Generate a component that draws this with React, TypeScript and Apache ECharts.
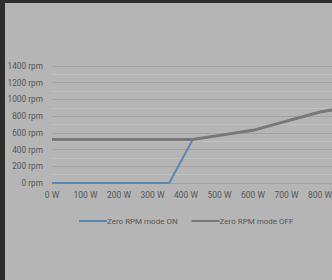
import React, { useEffect, useRef } from "react";
import * as echarts from "echarts";

const powerW = [0, 100, 200, 300, 350, 420, 500, 600, 700, 800, 900];
const rpmOn = [0, 0, 0, 0, 0, 520, 570, 630, 740, 850, 920];
const rpmOff = [520, 520, 520, 520, 520, 520, 570, 630, 740, 850, 920];
const yTicks = [0, 200, 400, 600, 800, 1000, 1200, 1400];
const seriesNames = ["Zero RPM mode ON", "Zero RPM mode OFF"];

const FONT = "Roboto, 'Liberation Sans', sans-serif";

export default function App() {
  const ref = useRef<HTMLDivElement>(null);
  useEffect(() => {
    if (!ref.current) return;
    const chart = echarts.init(ref.current, undefined, { renderer: "svg" });
    chart.setOption({
      animation: false,
      backgroundColor: "transparent",
      grid: { left: 47, top: 63, width: 301.5, height: 117, containLabel: false, outerBoundsMode: "none" },
      legend: {
        left: 69,
        top: 209,
        itemWidth: 28,
        itemHeight: 2,
        itemGap: 14,
        icon: "rect",
        textStyle: { color: "#555555", fontSize: 8, fontFamily: FONT, padding: [0, 0, 0, -5] },
        data: seriesNames,
      },
      xAxis: {
        type: "value",
        min: 0,
        max: 900,
        interval: 100,
        axisLine: { show: false },
        axisTick: { show: false },
        splitLine: { show: false },
        axisLabel: { color: "#555555", fontSize: 8.5, fontFamily: FONT, margin: 7, formatter: (v: number) => v + " W" },
      },
      yAxis: {
        type: "value",
        min: yTicks[0],
        max: yTicks[yTicks.length - 1],
        interval: 200,
        axisLine: { show: false },
        axisTick: { show: false },
        axisLabel: { color: "#555555", fontSize: 8.3, fontFamily: FONT, margin: 9, formatter: (v: number) => v + " rpm" },
        splitLine: { show: true, lineStyle: { color: "#a3a3a3", width: 1 } },
        minorTick: { show: false, splitNumber: 2 },
        minorSplitLine: { show: true, lineStyle: { color: "#c0c0c0", width: 1 } },
      },
      series: [
        {
          name: seriesNames[0],
          type: "line",
          data: powerW.map((w, i) => [w, rpmOn[i]]),
          showSymbol: false,
          lineStyle: { color: "#5b87b5", width: 2 },
          itemStyle: { color: "#5b87b5" },
          z: 2,
        },
        {
          name: seriesNames[1],
          type: "line",
          data: powerW.map((w, i) => [w, rpmOff[i]]),
          showSymbol: false,
          lineStyle: { color: "#787878", width: 3 },
          itemStyle: { color: "#787878" },
          z: 3,
        },
      ],
    });
    return () => chart.dispose();
  }, []);
  return (
    <div style={{ position: "fixed", left: 0, top: 0, width: 332, height: 280, background: "#2d2d2d", overflow: "hidden" }}>
      <div style={{ position: "absolute", left: 5, top: 3, width: 327, height: 277, background: "#b5b5b5", overflow: "hidden" }}>
        <div ref={ref} style={{ width: 420, height: 277 }} />
      </div>
    </div>
  );
}
